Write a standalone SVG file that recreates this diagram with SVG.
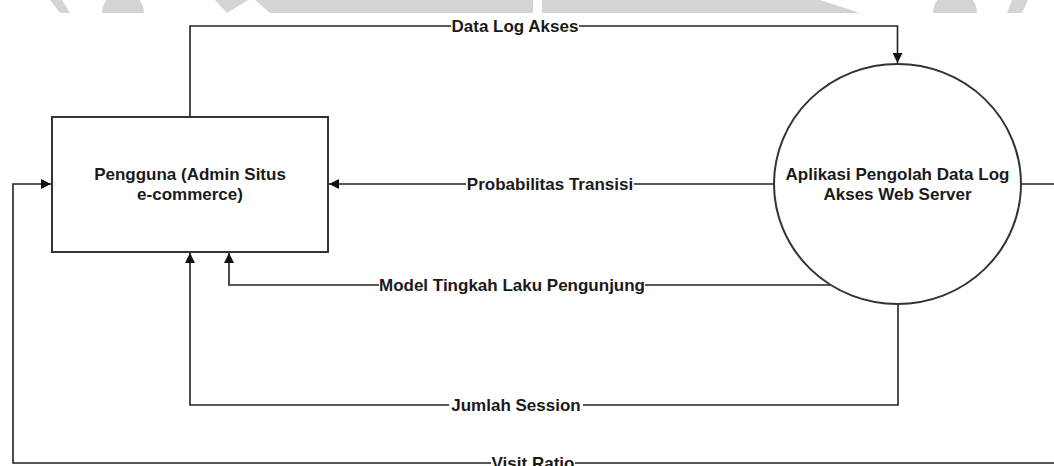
<svg xmlns="http://www.w3.org/2000/svg" width="1054" height="466" viewBox="0 0 1054 466">
<style>
.wm{fill:#d4d4d4;stroke:none}
.conn{fill:none;stroke:#222;stroke-width:1.6}
.node{fill:#fff;stroke:#333;stroke-width:2}
.nt{font-family:"Liberation Sans",Arial,sans-serif;font-weight:bold;font-size:17px;fill:#1a1a1a;text-anchor:middle}
.lbl{font-family:"Liberation Sans",Arial,sans-serif;font-weight:bold;font-size:17px;fill:#1a1a1a;text-anchor:middle}
.bg{fill:#fff}
</style>
<defs>
<marker id="arr" viewBox="0 0 10 10" refX="10" refY="5" markerWidth="10" markerHeight="10" markerUnits="userSpaceOnUse" orient="auto">
<path d="M0,0 L10,5 L0,10 z" fill="#111"/>
</marker>
</defs>
<rect width="1054" height="466" fill="#fff"/>
<g id="watermark">
<polygon class="wm" points="50,0 62,0 70,13 60,13"/>
<path class="wm" d="M102,13 A21,21 0 0 1 144,13 Z"/>
<polygon class="wm" points="215,0 248,0 227,13"/>
<polygon class="wm" points="255,0 533,0 533,13 270,13"/>
<polygon class="wm" points="542,0 820,0 860,13 542,13"/>
<path class="wm" d="M933,13 A22,22 0 0 1 977,13 Z"/>
<polygon class="wm" points="1012,0 1028,0 1022,13 1007,13"/>
</g>
<g id="connectors">
<polyline class="conn" points="190,117 190,26 897.5,26 897.5,63" marker-end="url(#arr)"/>
<line class="conn" x1="774" y1="184" x2="329" y2="184" marker-end="url(#arr)"/>
<polyline class="conn" points="830,285 229,285 229,253" marker-end="url(#arr)"/>
<polyline class="conn" points="898,304 898,405 190,405 190,253" marker-end="url(#arr)"/>
<polyline class="conn" points="1021,184 1060,184 1060,463 13,463 13,184 51,184" marker-end="url(#arr)"/>
<rect class="bg" x="451" y="16" width="128" height="20"/>
<text class="lbl" x="515" y="32">Data Log Akses</text>
<rect class="bg" x="466" y="174" width="168" height="20"/>
<text class="lbl" x="550" y="190">Probabilitas Transisi</text>
<rect class="bg" x="379" y="275" width="266" height="20"/>
<text class="lbl" x="512" y="291">Model Tingkah Laku Pengunjung</text>
<rect class="bg" x="449" y="395" width="134" height="20"/>
<text class="lbl" x="516" y="411">Jumlah Session</text>
<rect class="bg" x="491" y="453" width="84" height="20"/>
<text class="lbl" x="533" y="469">Visit Ratio</text>
</g>
<g id="pengguna">
<rect class="node" x="52" y="117" width="276" height="135"/>
<text class="nt" x="190" y="180">Pengguna (Admin Situs</text>
<text class="nt" x="190" y="200">e-commerce)</text>
</g>
<g id="aplikasi">
<ellipse class="node" cx="897.5" cy="184" rx="123.5" ry="120" stroke-width="1.6"/>
<text class="nt" x="897.5" y="180">Aplikasi Pengolah Data Log</text>
<text class="nt" x="897.5" y="200">Akses Web Server</text>
</g>
</svg>
